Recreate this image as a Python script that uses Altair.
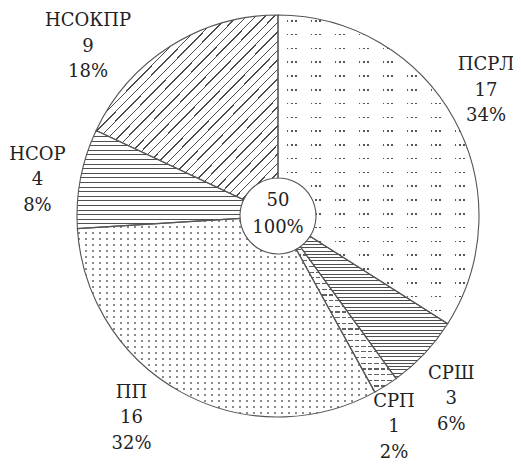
import math
import altair as alt
import pandas as pd

# ---- data ----
categories = ["ПСРЛ", "СРШ", "СРП", "ПП", "НСОР", "НСОКПР"]
counts = [17, 3, 1, 16, 4, 9]
slice_order = [0, 1, 2, 3, 4, 5]

df = pd.DataFrame({"cat": categories, "n": counts, "order": slice_order})

# ---- layout / style ----
CX, CY = 270, 208          # pie centre inside the view
R_OUT, R_IN = 201, 38
FONT = "DejaVu Serif"
FS = 18
INK = "#222222"
LINE = "#555555"
CLEAR = "rgba(255,255,255,0)"
LH = 25.5

# label nudges (pixels) from the default polar label position (middle line)
label_nudge = {
    "ПСРЛ": (-11, -5),
    "СРШ": (-9, 12),
    "СРП": (-18, 0),
    "ПП": (-26, -17),
    "НСОР": (5, 11),
    "НСОКПР": (-56, 42),
}


def stripe_stops(length, first, period, segs, on, off):
    stops = [(0.0, off)]
    p = first
    while p < length:
        for a, w in segs:
            s, e = p + a, p + a + w
            if s >= length:
                break
            e = min(e, length)
            stops += [(s / length, off), (s / length, on), (e / length, on), (e / length, off)]
        p += period
    stops.append((1.0, off))
    return [{"offset": round(o, 5), "color": c} for o, c in stops]


def grad(direction, stops):
    x2, y2 = {"v": (0, 1), "h": (1, 0), "d": (1, 1)}[direction]
    return {"gradient": "linear", "x1": 0, "y1": 0, "x2": x2, "y2": y2, "stops": stops}


diag_len = 2 / math.sqrt(1 / 181.9 ** 2 + 1 / 184.8 ** 2)

# pattern layers per slice: list of gradient fills (drawn in order)
patterns = {
    "ПСРЛ": [
        grad("v", stripe_stops(309, 5, 13.8, [(0, 1.6)], "#555555", "white")),
        grad("h", stripe_stops(201, 8.7, 24, [(0, 1.6), (4.3, 1.6), (8.6, 1.6)], CLEAR, "white")),
    ],
    "СРШ": [grad("v", stripe_stops(142.2, 1, 3.3, [(0, 1.0)], "#505050", "white"))],
    "СРП": [
        grad("v", stripe_stops(145.5, 2, 5.7, [(0, 1.2)], "#606060", "white")),
        grad("h", stripe_stops(99.8, 0, 6.5, [(0, 4.5)], CLEAR, "white")),
    ],
    "ПП": [
        grad("v", stripe_stops(198.6, 2, 6, [(0, 1.2)], "#8a8a8a", "white")),
        grad("h", stripe_stops(297.4, 1, 7, [(0, 1.2)], CLEAR, "white")),
    ],
    "НСОР": [grad("v", stripe_stops(98.2, 1, 4.6, [(0, 1.0)], "#505050", "white"))],
    "НСОКПР": [grad("d", stripe_stops(diag_len, 2, 6.6, [(0, 1.0)], "#4a4a4a", "white"))],
}

base = (
    alt.Chart(df)
    .transform_joinaggregate(total="sum(n)")
    .transform_window(cum="sum(n)", sort=[alt.SortField("order")], frame=[None, 0])
    .transform_calculate(
        s="(datum.cum - datum.n) / datum.total",
        e="datum.cum / datum.total",
        m="(datum.cum - datum.n / 2) / datum.total",
        label="[datum.cat, '' + datum.n, format(datum.n / datum.total, '.0%')]",
    )
)

theta_s = alt.Theta("s:Q", scale=alt.Scale(domain=[0, 1]))

layers = []
for cat in categories:
    for g in patterns[cat]:
        layers.append(
            base.transform_filter(alt.datum.cat == cat)
            .mark_arc(outerRadius=R_OUT, innerRadius=R_IN, fill=g, strokeWidth=0)
            .encode(theta=theta_s, theta2="e:Q", x=alt.value(CX), y=alt.value(CY))
        )

# outlines
layers.append(
    base.mark_arc(outerRadius=R_OUT, innerRadius=R_IN, filled=False, stroke=LINE, strokeWidth=1.1)
    .encode(theta=theta_s, theta2="e:Q", x=alt.value(CX), y=alt.value(CY))
)

# labels (Vega puts the first line at the anchor, so lift by one line)
for cat in categories:
    dx, dy = label_nudge[cat]
    layers.append(
        base.transform_filter(alt.datum.cat == cat)
        .mark_text(radius=250, font=FONT, fontSize=FS, lineHeight=LH, color=INK,
                   align="center", baseline="middle", dx=dx, dy=dy - LH)
        .encode(theta=alt.Theta("m:Q", scale=alt.Scale(domain=[0, 1])), text="label:N",
                x=alt.value(CX), y=alt.value(CY))
    )

# centre total
layers.append(
    alt.Chart(df)
    .transform_aggregate(total="sum(n)")
    .transform_calculate(label="['' + datum.total, '100%']")
    .mark_text(font=FONT, fontSize=FS, lineHeight=27, color=INK, align="center", baseline="middle")
    .encode(text="label:N", x=alt.value(CX), y=alt.value(CY - 15))
)

chart = (
    alt.layer(*layers)
    .properties(width=505, height=453, padding=0, autosize="none")
    .configure_view(stroke=None)
)

chart.save("out.html", embed_options={"renderer": "svg", "actions": False})
